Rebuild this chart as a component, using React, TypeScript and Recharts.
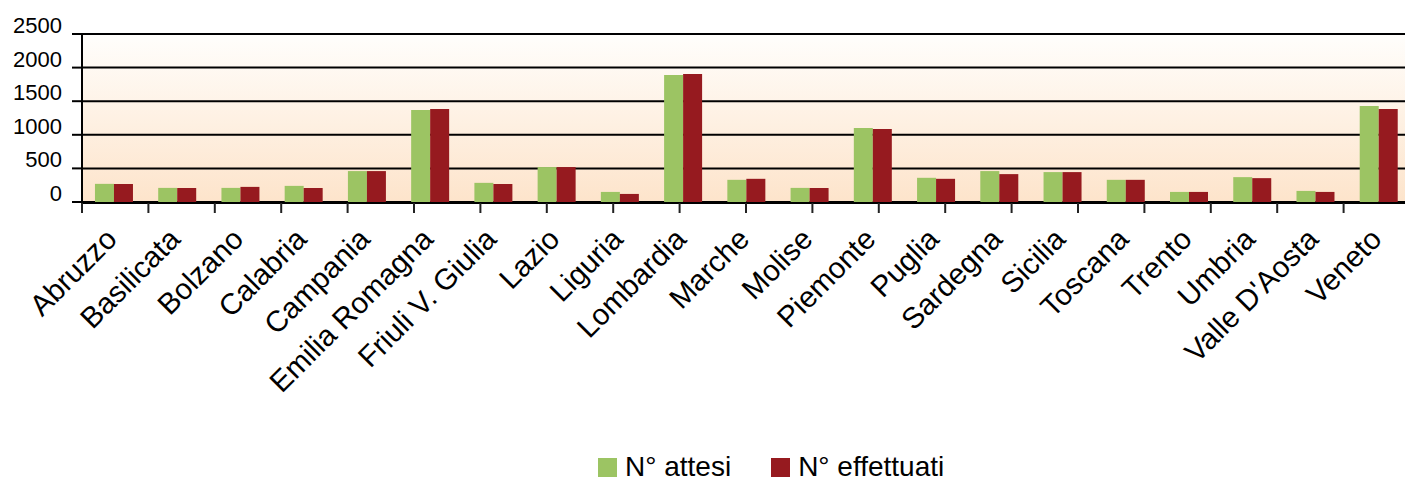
import React from 'react';
import { BarChart, Bar, XAxis, YAxis, CartesianGrid, Legend } from 'recharts';

const regioni = [
  'Abruzzo', 'Basilicata', 'Bolzano', 'Calabria', 'Campania', 'Emilia Romagna',
  'Friuli V. Giulia', 'Lazio', 'Liguria', 'Lombardia', 'Marche', 'Molise',
  'Piemonte', 'Puglia', 'Sardegna', 'Sicilia', 'Toscana', 'Trento', 'Umbria',
  "Valle D'Aosta", 'Veneto',
];
const attesi = [
  270, 210, 210, 240, 460, 1370, 285, 520, 150, 1890, 330, 210,
  1100, 360, 460, 445, 330, 150, 370, 165, 1430,
];
const effettuati = [
  268, 208, 225, 208, 460, 1385, 268, 520, 120, 1905, 345, 208,
  1085, 345, 415, 445, 330, 150, 355, 150, 1385,
];
const yTicks = [0, 500, 1000, 1500, 2000, 2500];

const data = regioni.map((r, i) => ({ regione: r, attesi: attesi[i], effettuati: effettuati[i] }));
const boundTicks = regioni.map((_, i) => i).concat(regioni.length);

const FONT = '"Liberation Sans", Arial, sans-serif';
const GREEN = '#9cc463';
const RED = '#961a1f';

// etichette asse X ruotate di 45 gradi
const XTick = (props: any) => {
  const { x, y, payload } = props;
  return (
    <text
      transform={`translate(${x + 5},${y + 37}) rotate(-45)`}
      textAnchor="end"
      fontSize={29.5}
      fontFamily={FONT}
      fill="#000"
    >
      {payload.value}
    </text>
  );
};

const YTick = (props: any) => {
  const { x, y, payload } = props;
  return (
    <text x={x} y={y - 1} textAnchor="end" fontSize={22} fontFamily={FONT} fill="#000">
      {payload.value}
    </text>
  );
};

const LegendBox = () => (
  <div style={{ display: 'flex', paddingTop: 8, fontFamily: FONT, fontSize: 28, lineHeight: '28px' }}>
    {[{ label: 'N° attesi', color: GREEN }, { label: 'N° effettuati', color: RED }].map((it, i) => (
      <div key={it.label} style={{ display: 'flex', alignItems: 'flex-start', marginLeft: i ? 40 : 0 }}>
        <span style={{ width: 19, height: 19, background: it.color, marginTop: 5, marginRight: 8 }} />
        <span style={{ whiteSpace: 'nowrap' }}>{it.label}</span>
      </div>
    ))}
  </div>
);

export default function App() {
  return (
    <div style={{ position: 'absolute', left: 0, top: 0, width: 1405, height: 481, overflow: 'hidden' }}>
      <BarChart
        width={1412}
        height={481}
        data={data}
        margin={{ top: 34, right: 2, bottom: 241, left: 0 }}
        barCategoryGap="20.5%"
        barGap={0}
      >
        <defs>
          <linearGradient id="sfondo" x1="0" y1="0" x2="0" y2="1">
            <stop offset="0%" stopColor="#fffefc" />
            <stop offset="100%" stopColor="#fde4cb" />
          </linearGradient>
        </defs>
        <CartesianGrid vertical={false} fill="url(#sfondo)" stroke="#000" strokeWidth={2} />
        <XAxis
          xAxisId="limiti"
          type="number"
          domain={[0, regioni.length]}
          ticks={boundTicks}
          tickFormatter={() => ''}
          tickSize={10}
          height={1}
          axisLine={{ stroke: '#000', strokeWidth: 2 }}
          tickLine={{ stroke: '#222', strokeWidth: 2 }}
          allowDataOverflow
        />
        <XAxis
          xAxisId="cat"
          dataKey="regione"
          interval={0}
          height={1}
          tickSize={0}
          tickLine={false}
          axisLine={false}
          tick={<XTick />}
        />
        <YAxis
          domain={[0, 2500]}
          ticks={yTicks}
          width={82}
          tickSize={10}
          tickMargin={10}
          axisLine={{ stroke: '#000', strokeWidth: 2 }}
          tickLine={{ stroke: '#000', strokeWidth: 2 }}
          tick={<YTick />}
        />
        <Legend
          height={36}
          content={<LegendBox />}
          wrapperStyle={{ top: 445, left: 598, width: 'auto' }}
        />
        <Bar xAxisId="cat" dataKey="attesi" name="N° attesi" fill={GREEN} isAnimationActive={false} />
        <Bar xAxisId="cat" dataKey="effettuati" name="N° effettuati" fill={RED} isAnimationActive={false} />
      </BarChart>
    </div>
  );
}
